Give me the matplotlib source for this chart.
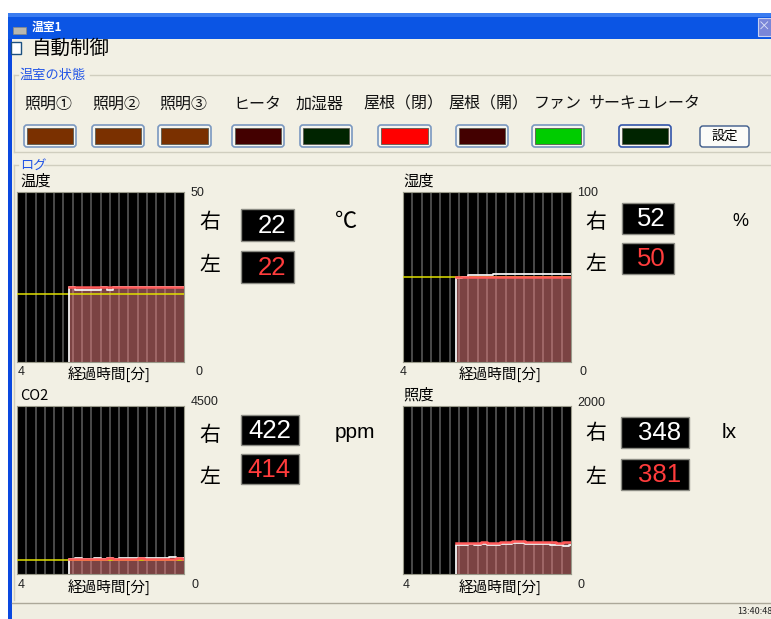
import numpy as np
import matplotlib
matplotlib.use('Agg')
import matplotlib.pyplot as plt
from matplotlib.patches import Rectangle, FancyBboxPatch

plt.rcParams['font.family'] = ['Noto Sans CJK JP', 'DejaVu Sans']

W, H = 771, 619

# device status row
device_names = ['照明①', '照明②', '照明③', 'ヒータ', '加湿器', '屋根（閉）', '屋根（開）', 'ファン', 'サーキュレータ']
device_colors = ['#7a3000', '#7a3000', '#7a3000', '#430000', '#002400',
                 '#ff0000', '#430000', '#00cc00', '#002400']

# log samples (minutes ago)
minutes = [2.75, 2.6, 2.45, 2.3, 2.15, 2.0, 1.85, 1.7, 1.55, 1.4,
           1.25, 1.1, 0.95, 0.8, 0.65, 0.5, 0.35, 0.2, 0.05, 0.0]

temp_right = [22.0, 21.2, 21.2, 21.2, 21.2, 22.0, 21.2, 22.0, 22.0, 22.0,
              22.0, 22.0, 22.0, 22.0, 22.0, 22.0, 22.0, 22.0, 22.0, 22.0]
temp_left = [22.0, 22.0, 22.0, 22.0, 22.0, 22.0, 22.0, 22.0, 22.0, 22.0,
             22.0, 22.0, 22.0, 22.0, 22.0, 22.0, 22.0, 22.0, 22.0, 22.0]

hum_right = [49.5, 50, 51, 51, 51, 51, 52, 52, 52, 52,
             52, 52, 52, 52, 52, 52, 52, 52, 52, 52]
hum_left = [50, 50, 50, 50, 50, 50, 50, 50, 50, 50,
            50, 50, 50, 50, 50, 50, 50, 50, 50, 50]

co2_right = [410, 440, 412, 414, 416, 414, 418, 414, 416, 418,
             420, 420, 418, 420, 440, 420, 445, 422, 440, 422]
co2_left = [410, 412, 414, 414, 412, 414, 416, 414, 414, 412,
            414, 416, 414, 414, 414, 412, 414, 416, 414, 414]

lux_right = [340, 350, 352, 348, 355, 350, 342, 352, 360, 375,
             368, 356, 360, 352, 358, 350, 346, 336, 344, 348]
lux_left = [365, 372, 375, 370, 378, 374, 368, 376, 382, 398,
            392, 380, 384, 378, 382, 376, 372, 380, 376, 381]

titles = ['温度', '湿度', 'CO2', '照度']
y_max = [50, 100, 4500, 2000]
setpoints = [20, 50, 380, None]
units = ['℃', '%', 'ppm', 'lx']
now_right = [22, 52, 422, 348]
now_left = [22, 50, 414, 381]

fig = plt.figure(figsize=(W / 100, H / 100), dpi=100, facecolor='white')

# background drawn in pixel coordinates
bg = fig.add_axes([0, 0, 1, 1], zorder=0)
bg.set_xlim(0, W)
bg.set_ylim(H, 0)
bg.axis('off')

def rect(x0, y0, x1, y1, **kw):
    bg.add_patch(Rectangle((x0, y0), x1 - x0, y1 - y0, **kw))

# window frame
rect(8, 13, W, 39, facecolor='#0b55e4', edgecolor='none')
rect(8, 13, W, 17, facecolor='#3a7cf0', edgecolor='none')
rect(8, 39, 12, H, facecolor='#0a48e0', edgecolor='none')
rect(12, 39, W, H, facecolor='#f2f0e4', edgecolor='none')
rect(13, 27, 26, 34, facecolor='#b8b8b0', edgecolor='#8a8a80', lw=0.5)
bg.text(32, 27, '温室1', color='white', fontsize=8.5, fontweight='bold', va='center')
rect(758, 18, 775, 36, facecolor='#7a86d8', edgecolor='#c8d0f0', lw=0.8)
bg.text(764.5, 27, '×', color='#dde2f8', fontsize=9, va='center', ha='center')

# auto control checkbox
rect(11, 42, 21, 54, facecolor='white', edgecolor='#1c5180', lw=1)
bg.text(32, 48, '自動制御', fontsize=14, va='center', color='black')

# status group
line_c = '#d0cebf'
bg.plot([14, 18], [75, 75], color=line_c, lw=1)
bg.plot([90, W], [75, 75], color=line_c, lw=1)
bg.plot([14, 14], [75, 152], color=line_c, lw=1)
bg.plot([14, W], [152, 152], color=line_c, lw=1)
bg.text(20, 75, '温室の状態', color='#2255e6', fontsize=9.5, va='center')

label_x = [24, 92, 159, 233, 296, 363, 448, 534, 589]
btn_x = [(24, 76), (92, 144), (158, 211), (232, 284), (300, 352),
         (378, 431), (456, 508), (532, 584), (619, 671)]
for i, name in enumerate(device_names):
    bg.text(label_x[i], 104, name, fontsize=11.5, va='center', color='#111111')
    x0, x1 = btn_x[i]
    edge = '#3355aa' if i == 8 else '#7a98c0'
    bg.add_patch(FancyBboxPatch((x0, 125), x1 - x0, 22, boxstyle='round,pad=0,rounding_size=3',
                                facecolor='#f6f5ef', edgecolor=edge, lw=1.2))
    rect(x0 + 3, 128, x1 - 3, 144, facecolor=device_colors[i], edgecolor='#5a5a50', lw=0.6)
bg.add_patch(FancyBboxPatch((700, 126), 49, 21, boxstyle='round,pad=0,rounding_size=3',
                            facecolor='#fbfbf8', edgecolor='#3c5a8a', lw=1))
bg.text(724.5, 136.5, '設定', fontsize=9.5, ha='center', va='center')

# log group
bg.plot([44, W], [165, 165], color=line_c, lw=1)
bg.plot([14, 18], [165, 165], color=line_c, lw=1)
bg.plot([14, 14], [165, 600], color=line_c, lw=1)
bg.text(20, 165, 'ログ', color='#2255e6', fontsize=9.5, va='center')

# status bar
bg.plot([12, W], [603, 603], color='#aca899', lw=1)
rect(12, 604, W, H, facecolor='#f0eee2', edgecolor='none')
bg.text(737, 611, '13:40:48', fontsize=6.5, va='center', color='#222222')

# chart layouts (pixel positions)
layout = [
    dict(ax=(17, 192, 184, 362), title=(20, 181), top=(191, 193), foot=372, foot4=18,
         mid=109, zero=195, lab_x=210, r_y=222, l_y=265, box_x=(241, 294),
         box_r=(209, 241), box_l=(251, 283), unit=(335, 222)),
    dict(ax=(403, 192, 571, 362), title=(403, 181), top=(577, 193), foot=372, foot4=400,
         mid=500, zero=580, lab_x=596, r_y=222, l_y=264, box_x=(622, 674),
         box_r=(203, 234), box_l=(243, 274), unit=(732, 222)),
    dict(ax=(17, 406, 184, 574), title=(20, 396), top=(191, 402), foot=585, foot4=18,
         mid=109, zero=191, lab_x=210, r_y=435, l_y=477, box_x=(241, 299),
         box_r=(415, 445), box_l=(454, 484), unit=(335, 433)),
    dict(ax=(403, 406, 571, 574), title=(403, 395), top=(577, 403), foot=585, foot4=403,
         mid=500, zero=578, lab_x=596, r_y=433, l_y=477, box_x=(621, 689),
         box_r=(417, 448), box_l=(459, 490), unit=(722, 433)),
]

series = [(temp_right, temp_left), (hum_right, hum_left),
          (co2_right, co2_left), (lux_right, lux_left)]

t = np.array(minutes)
for k in range(4):
    L = layout[k]
    x0, y0, x1, y1 = L['ax']
    ax = fig.add_axes([x0 / W, 1 - y1 / H, (x1 - x0) / W, (y1 - y0) / H], zorder=2)
    ax.set_facecolor('black')
    ax.set_xlim(4, 0)
    ax.set_ylim(0, y_max[k])
    ax.set_xticks([])
    ax.set_yticks([])
    for s in ax.spines.values():
        s.set_color('#9a9a8a')
        s.set_linewidth(0.8)
    for g in range(1, 18):
        ax.axvline(g * 4 / 18, color='#4a4a4a', lw=1.4, zorder=1)

    right, left = np.array(series[k][0]), np.array(series[k][1])
    ax.fill_between(t, 0, left, step='post', color='#f68686', alpha=0.5, lw=0, zorder=2)
    if setpoints[k] is not None:
        ax.axhline(setpoints[k], color='#e0e000', lw=1.1, zorder=3)
    ax.plot(np.r_[t[0], t], np.r_[0, right], drawstyle='steps-post', color='#f2f2f2', lw=1.3, zorder=4)
    ax.plot(t, left, drawstyle='steps-post', color='#ff5a5a', lw=1.8, zorder=5)

    # labels around chart
    bg.text(L['title'][0], L['title'][1], titles[k], fontsize=11 if k != 2 else 10.5, va='center')
    bg.text(L['top'][0], L['top'][1], str(y_max[k]), fontsize=9, va='center',
            family='Liberation Sans', color='#222222')
    bg.text(L['foot4'], L['foot'], '4', fontsize=9, va='center',
            family='Liberation Sans', color='#222222')
    bg.text(L['zero'], L['foot'], '0', fontsize=9, va='center',
            family='Liberation Sans', color='#222222')
    bg.text(L['mid'], L['foot'] + 2, '経過時間[分]', fontsize=10.5, va='center', ha='center')

    bg.text(L['lab_x'], L['r_y'], '右', fontsize=15, va='center', ha='center')
    bg.text(L['lab_x'], L['l_y'], '左', fontsize=15, va='center', ha='center')
    bx0, bx1 = L['box_x']
    for (by0, by1), val, col in [(L['box_r'], now_right[k], 'white'),
                                 (L['box_l'], now_left[k], '#ff3c3c')]:
        rect(bx0, by0, bx1, by1, facecolor='black', edgecolor='#8c8c84', lw=1)
        bg.text(bx1 - 8, (by0 + by1) / 2 + 1, str(val), fontsize=18.5, color=col,
                family='Liberation Sans', ha='right', va='center')

    if units[k] == '℃':
        bg.text(L['unit'][0], L['unit'][1], units[k], fontsize=16, va='center')
    else:
        bg.text(L['unit'][0], L['unit'][1], units[k], fontsize=15 if k != 1 else 13,
                va='center', family='Liberation Sans')

fig.savefig('out.png', dpi=100)
